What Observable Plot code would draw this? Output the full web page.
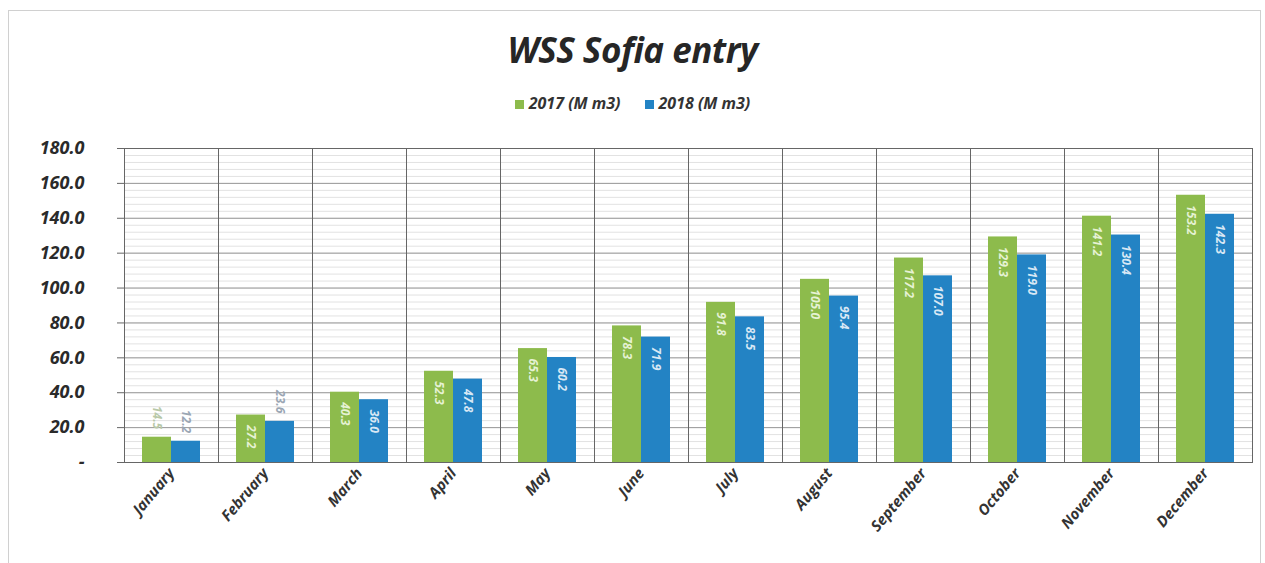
<!DOCTYPE html>
<html>
<head>
<meta charset="utf-8">
<script src="https://cdn.jsdelivr.net/npm/d3@7"></script>
<script src="https://cdn.jsdelivr.net/npm/@observablehq/plot@0.6"></script>
<style>
  html, body { margin: 0; padding: 0; background: #fff; }
  #wrap { position: relative; width: 1265px; height: 563px; overflow: hidden; font-family: "Open Sans", "Liberation Sans", sans-serif; }
  #border { position: absolute; left: 8px; top: 10px; width: 1253px; height: 560px; border: 1px solid #d0d0d0; box-sizing: border-box; }
  #title { position: absolute; top: 26px; left: 0; width: 1265px; text-align: center; font-size: 35px; font-weight: bold; font-style: italic; color: #262626; letter-spacing: -0.5px; }
  #legend { position: absolute; top: 92px; left: 0; width: 1265px; text-align: center; font-size: 16px; font-weight: bold; font-style: italic; color: #333; }
  #legend span.item { margin: 0 12px; }
  #legend span.sw { display: inline-block; width: 9px; height: 9px; margin-right: 5px; vertical-align: 0px; }
  #chart { position: absolute; top: 130px; left: 0; }
  #chart svg text { font-weight: bold; font-style: italic; }
</style>
</head>
<body>
<div id="wrap">
  <div id="border"></div>
  <div id="title">WSS Sofia entry</div>
  <div id="legend"></div>
  <div id="chart"></div>
</div>
<script>
const months = ["January","February","March","April","May","June","July","August","September","October","November","December"];
const years = ["2017","2018"];
const seriesNames = ["2017 (M m3)","2018 (M m3)"];
const v2017 = [14.5, 27.2, 40.3, 52.3, 65.3, 78.3, 91.8, 105.0, 117.2, 129.3, 141.2, 153.2];
const v2018 = [12.2, 23.6, 36.0, 47.8, 60.2, 71.9, 83.5, 95.4, 107.0, 119.0, 130.4, 142.3];
const yTicks = [0, 20, 40, 60, 80, 100, 120, 140, 160, 180];
const colors = ["#8dbb4c", "#2383c4"];

const data = months.flatMap((m, i) => [
  {month: m, year: years[0], value: v2017[i]},
  {month: m, year: years[1], value: v2018[i]}
]);
const inside = data.filter(d => d.value >= 25);
const above = data.filter(d => d.value < 25);

const legend = document.getElementById("legend");
legend.innerHTML = seriesNames.map((s, i) =>
  `<span class="item"><span class="sw" style="background:${colors[i]}"></span>${s}</span>`).join("");

const minor = d3.range(0, 181, 4);

const chart = Plot.plot({
  width: 1265,
  height: 427,
  marginLeft: 120,
  marginRight: 10,
  marginTop: 18,
  marginBottom: 95,
  style: {fontFamily: "'Open Sans', 'Liberation Sans', sans-serif", color: "#333", background: "transparent"},
  fx: {domain: months, padding: 0, label: null, axis: null},
  x: {domain: years, paddingInner: 0, paddingOuter: 0.6, axis: null},
  y: {domain: [0, 180], axis: null},
  color: {domain: years, range: colors},
  marks: [
    Plot.ruleY(minor, {stroke: "#e2e2e2", strokeWidth: 1}),
    Plot.ruleY(yTicks, {stroke: "#9a9a9a", strokeWidth: 1}),
    Plot.frame({stroke: "#666", strokeWidth: 1}),
    Plot.barY(data, {fx: "month", x: "year", y: "value", fill: "year"}),
    Plot.text(inside, {
      fx: "month", x: "year", y: "value", text: d => d.value.toFixed(1),
      rotate: 90, textAnchor: "start", dy: 10, fontSize: 12,
      fill: d => d.year === "2017" ? "#e6f2d4" : "#d8e8f5"
    }),
    Plot.text(above, {
      fx: "month", x: "year", y: "value", text: d => d.value.toFixed(1),
      rotate: 90, textAnchor: "end", dy: -8, fontSize: 12,
      fill: d => d.year === "2017" ? "#b8c8a8" : "#9aa6b4"
    }),
    Plot.axisY({
      ticks: yTicks, tickSize: 7, tickPadding: 33, fontSize: 18, label: null,
      tickFormat: d => d === 0 ? "-" : d.toFixed(1), stroke: "#666", fill: "#2a2a2a"
    }),
    Plot.axisFx({
      anchor: "bottom", tickRotate: -50, tickSize: 0, tickPadding: 8, fontSize: 15, label: null, fill: "#333"
    })
  ]
});
document.getElementById("chart").appendChild(chart);
</script>
</body>
</html>
